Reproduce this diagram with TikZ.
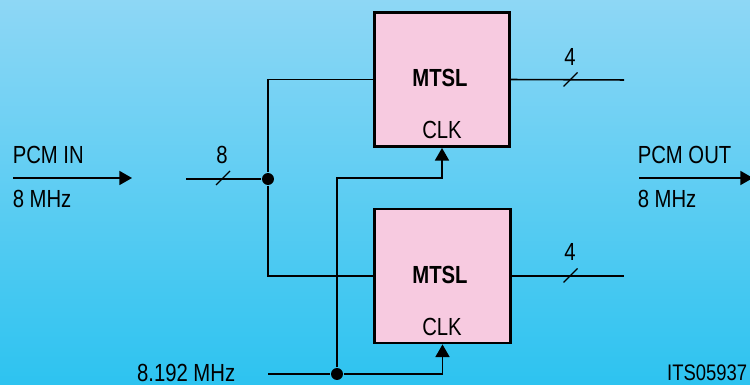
\documentclass[tikz,border=0pt]{standalone}
\usepackage{fontspec}
\setmainfont[FakeStretch=0.82]{Liberation Sans}
\usetikzlibrary{arrows.meta, positioning, calc}
\definecolor{skytop}{RGB}{142,215,245}
\definecolor{skybot}{RGB}{45,195,240}
\definecolor{boxpink}{RGB}{247,202,224}

\begin{document}
\begin{tikzpicture}[x=0.025cm, y=-0.025cm, >={Triangle[length=9pt, width=10pt]}, line width=1.1pt,
  font=\fontsize{17.6}{20}\selectfont,
  block/.style={draw, line width=2pt, fill=boxpink, minimum width=3.38cm, minimum height=3.35cm, inner sep=0pt},
  dot/.style={circle, fill, inner sep=0pt, minimum size=8.5pt},
  lbl/.style={inner sep=0pt},
  busslash/.style={line width=0.9pt}]
  \shade[top color=skytop, bottom color=skybot] (0,0) rectangle (750,385);
  \useasboundingbox (0,0) rectangle (750,385);

  % the two MTSL blocks
  \node[block] (mtslA) at (442,79.5) {};
  \node[lbl, font=\fontsize{17.6}{20}\selectfont\bfseries] (nameA) at (440,78) {MTSL};
  \node[lbl] (clkA) at (442,130) {CLK};
  \node[block] (mtslB) at (442.5,276) {};
  \node[lbl, font=\fontsize{17.6}{20}\selectfont\bfseries] (nameB) at (440,275) {MTSL};
  \node[lbl] (clkB) at (442,327) {CLK};

  % input and output
  \coordinate (inL) at (13,178);
  \coordinate (inR) at (132,178);
  \draw[->] (inL) -- (inR);
  \node[lbl, anchor=west] (pcmIn) at (12,155) {PCM IN};
  \node[lbl, anchor=west] (rateIn) at (12,199) {8 MHz};
  \coordinate (outL) at (639,178);
  \coordinate (outR) at (753,178);
  \draw[->] (outL) -- (outR);
  \node[lbl, anchor=west] (pcmOut) at (637,155) {PCM OUT};
  \node[lbl, anchor=west] (rateOut) at (637,199) {8 MHz};

  % data bus
  \coordinate (busIn) at (186,179);
  \node[dot] (junIn) at (268,179) {};
  \draw (busIn) -- (junIn);
  \draw (junIn) |- (mtslA.west);
  \draw (junIn) |- (mtslB.west);
  \draw[busslash] (223,178) +(-7,7) -- +(7,-7);
  \node[lbl] (wIn) at (222,155) {8};

  \coordinate (outA) at (624,80);
  \coordinate (outB) at (624,276);
  \draw (mtslA.east) -- (outA);
  \draw (mtslB.east) -- (outB);
  \draw[busslash] (570.5,79.5) +(-7,7) -- +(7,-7);
  \draw[busslash] (570.5,275.5) +(-7,7) -- +(7,-7);
  \node[lbl] (wA) at (570,57) {4};
  \node[lbl] (wB) at (570,252) {4};

  % clock
  \coordinate (clkIn) at (268,374);
  \node[dot] (junClk) at (337,374) {};
  \draw (clkIn) -- (junClk);
  \draw[->] (junClk) -| (mtslB.south);
  \draw[->] (junClk) |- ($(mtslA.south)+(0,30)$) -- (mtslA.south);
  \node[lbl, anchor=east] (rateClk) at (236,373) {8.192 MHz};

  \node[lbl, anchor=east, font=\fontsize{16}{19}\selectfont] (figId) at (748,373) {ITS05937};
\end{tikzpicture}
\end{document}
